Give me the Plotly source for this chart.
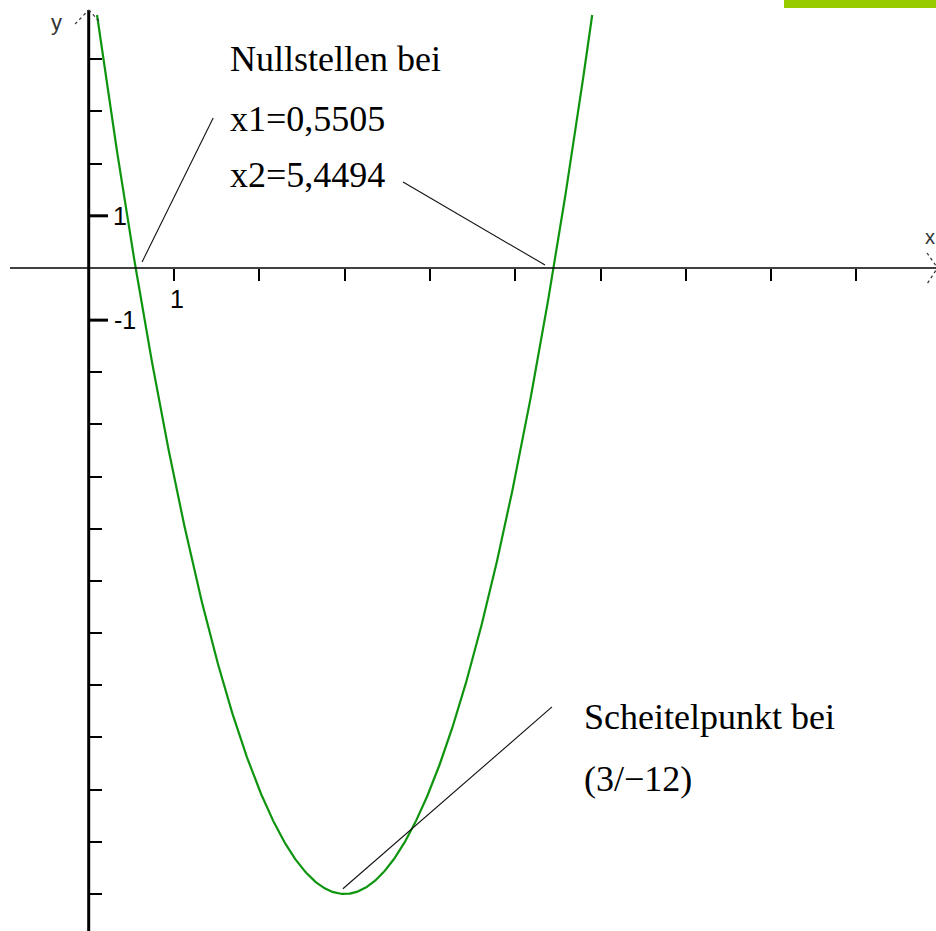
import numpy as np
import plotly.graph_objects as go

# Parabola f(x) = a*(x - xv)^2 + yv, given by its vertex and zeros
A_COEF = 2.0
VERTEX = (3.0, -12.0)
ZEROS = [0.5505, 5.4494]
X_DRAWN = (0.0975, 5.9025)          # visible part of the graph

# Axis extents and ticks
X_RANGE = [-1.04, 9.933]
Y_RANGE = [-12.71, 5.137]
X_TICKS = [1, 2, 3, 4, 5, 6, 7, 8, 9]
Y_TICKS = [4, 3, 2, 1, -1, -2, -3, -4, -5, -6, -7, -8, -9, -10, -11, -12]

# Callout texts
ZERO_TEXT = ["Nullstellen bei", "x1=0,5505", "x2=5,4494"]
VERTEX_TEXT = ["Scheitelpunkt bei", "(3/\u221212)"]

xs = np.linspace(X_DRAWN[0], X_DRAWN[1], 600)
ys = A_COEF * (xs - VERTEX[0]) ** 2 + VERTEX[1]

fig = go.Figure()
fig.add_trace(go.Scatter(x=xs, y=ys, mode="lines",
                         line=dict(color="#0f940f", width=2.2),
                         hoverinfo="skip", showlegend=False))

y_pos = (0 - Y_RANGE[0]) / (Y_RANGE[1] - Y_RANGE[0])
x_pos = (0 - X_RANGE[0]) / (X_RANGE[1] - X_RANGE[0])

fig.update_layout(
    width=936, height=931,
    margin=dict(l=0, r=0, t=0, b=0),
    paper_bgcolor="white", plot_bgcolor="white",
    showlegend=False,
    xaxis=dict(range=X_RANGE, showgrid=False, zeroline=False, showline=False,
               tickvals=X_TICKS, ticks="outside", ticklen=12, tickwidth=2,
               tickcolor="black", showticklabels=False,
               anchor="free", position=y_pos, fixedrange=True),
    yaxis=dict(range=Y_RANGE, showgrid=False, zeroline=False, showline=False,
               tickvals=Y_TICKS, ticks="inside", ticklen=12, tickwidth=2,
               tickcolor="black", showticklabels=False,
               anchor="free", position=x_pos, fixedrange=True),
)

shapes = []
# coordinate axes
shapes.append(dict(type="line", xref="x", yref="y", x0=-0.923, x1=X_RANGE[1],
                   y0=0, y1=0, line=dict(color="black", width=1.5)))
shapes.append(dict(type="line", xref="x", yref="y", x0=0, x1=0,
                   y0=Y_RANGE[0], y1=4.945, line=dict(color="black", width=3)))
# longer ticks at the labelled units
for v in (1, -1):
    shapes.append(dict(type="line", xref="x", yref="y", x0=0, x1=0.226,
                       y0=v, y1=v, line=dict(color="black", width=3)))
# arrow heads
arrow = dict(color="#333333", width=1.2, dash="dot")
shapes.append(dict(type="line", xref="x", yref="y", x0=-0.16, y0=4.677,
                   x1=0, y1=4.945, line=arrow))
shapes.append(dict(type="line", xref="x", yref="y", x0=0, y0=4.945,
                   x1=0.132, y1=4.715, line=arrow))
shapes.append(dict(type="line", xref="x", yref="y", x0=9.828, y0=0.2875,
                   x1=9.93, y1=0.05, line=arrow))
shapes.append(dict(type="line", xref="x", yref="y", x0=9.93, y0=-0.05,
                   x1=9.828, y1=-0.307, line=arrow))
# leader lines from the callouts to the curve
leader = dict(color="#111111", width=1.1)
shapes.append(dict(type="line", xref="x", yref="y", x0=1.459, y0=2.875,
                   x1=ZEROS[0] + 0.075, y1=0.115, line=leader))
shapes.append(dict(type="line", xref="x", yref="y", x0=3.685, y0=1.648,
                   x1=ZEROS[1] - 0.1, y1=0.0575, line=leader))
shapes.append(dict(type="line", xref="x", yref="y", x0=5.431, y0=-8.415,
                   x1=VERTEX[0] - 0.02, y1=VERTEX[1] + 0.1, line=leader))
# accent bar
shapes.append(dict(type="rect", xref="paper", yref="paper",
                   x0=784 / 936, x1=1, y0=1 - 8 / 931, y1=1,
                   fillcolor="#99cc00", line=dict(width=0)))
fig.update_layout(shapes=shapes)

serif = dict(family="Liberation Serif", size=36, color="black")
sans = dict(family="Liberation Sans", size=25, color="black")
ann = []
for txt, yy in zip(ZERO_TEXT, [4.0, 2.86, 1.78]):
    ann.append(dict(x=1.633, y=yy, xref="x", yref="y", text=txt,
                    showarrow=False, xanchor="left", yanchor="middle", font=serif))
for txt, yy in zip(VERTEX_TEXT, [-8.6, -9.8]):
    ann.append(dict(x=5.783, y=yy, xref="x", yref="y", text=txt,
                    showarrow=False, xanchor="left", yanchor="middle", font=serif))
ann.append(dict(x=1.04, y=-0.6, xref="x", yref="y", text="1",
                showarrow=False, font=sans))
ann.append(dict(x=0.37, y=1.0, xref="x", yref="y", text="1",
                showarrow=False, font=sans))
ann.append(dict(x=0.43, y=-1.0, xref="x", yref="y", text="-1",
                showarrow=False, font=sans))
ann.append(dict(x=-0.383, y=4.715, xref="x", yref="y", text="y",
                showarrow=False, font=dict(family="Liberation Sans", size=22, color="#333333")))
ann.append(dict(x=9.863, y=0.594, xref="x", yref="y", text="x",
                showarrow=False, font=dict(family="Liberation Sans", size=20, color="#333333")))
fig.update_layout(annotations=ann)

fig.write_html("out.html")
